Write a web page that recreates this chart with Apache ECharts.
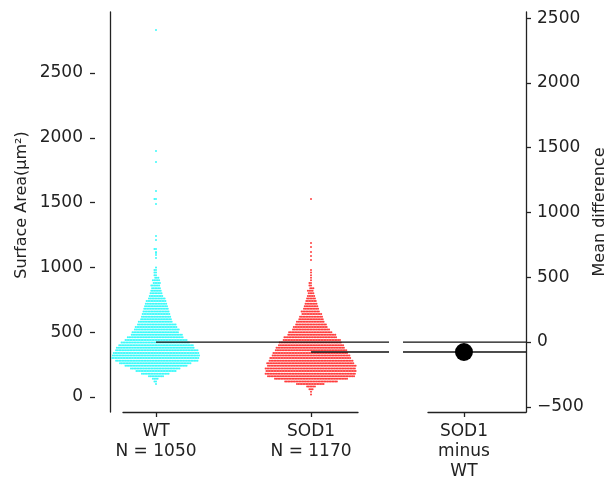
<!DOCTYPE html>
<html><head><meta charset="utf-8">
<script src="https://cdn.jsdelivr.net/npm/echarts@6/dist/echarts.min.js"></script>
<style>html,body{margin:0;padding:0;background:#fff}#c{width:616px;height:477px}</style>
</head><body><div id="c"></div>
<script>
// ---- data ----
const groups = ['WT', 'SOD1'];
const groupN = [1050, 1170];
const diffLabel = 'SOD1\nminus\nWT';
const yTicks = [0, 500, 1000, 1500, 2000, 2500];
const diffTicks = [-500, 0, 500, 1000, 1500, 2000, 2500];

// swarm rows: surface-area level (µm²) and number of cells at that level
const wtLevels = [100,120,140,160,180,200,220,240,260,280,300,320,340,360,380,400,420,440,460,480,500,520,540,560,580,600,620,640,660,680,700,720,740,760,780,800,820,840,860,880,900,920,940,960,980,1000];
const wtCounts = [1,2,4,10,18,26,32,40,46,53,56,56,55,53,50,48,44,40,36,33,30,29,27,25,22,20,19,18,17,16,15,14,13,11,9,8,7,6,6,5,5,3,2,2,2,1];
const wtOutliers = [1073,1096,1111,1119,1142,1142,1211,1242,1489,1528,1528,1590,1813,1898,2832];

const sodLevels = [20,40,60,80,100,120,140,160,180,200,220,240,260,280,300,320,340,360,380,400,420,440,460,480,500,520,540,560,580,600,620,640,660,680,700,720,740,760,780,800,820,840,860,880,900,920,940,960];
const sodCounts = [1,1,3,6,18,34,47,56,58,58,58,57,56,54,52,50,48,46,44,42,40,37,34,31,28,24,22,20,18,16,15,13,12,10,9,8,7,6,5,4,4,3,2,2,1,1,1,1];
const sodOutliers = [980,1057,1088,1119,1157,1188,1528];

const meanWT = 424, meanSOD1 = 347;
const meanDiff = -77;

// ---- build swarm points (layout only) ----
function swarm(center, levels, counts, outliers, dx) {
  const rows = levels.map((v, i) => [v, counts[i]]);
  const m = {};
  outliers.forEach(v => { m[v] = (m[v] || 0) + 1; });
  Object.keys(m).forEach(k => rows.push([+k, m[k]]));
  const pts = [];
  rows.forEach(([v, n], i) => {
    const stag = (i % 2) ? 0.5 : 0;
    for (let k = 0; k < n; k++) {
      const s = k === 0 ? 0 : ((k % 2) ? -1 : 1) * Math.ceil(k / 2);
      pts.push([center + (s + (n > 2 ? stag : 0)) * dx, v]);
    }
  });
  return pts;
}
const dx = 0.0101;
const wtPts = swarm(0, wtLevels, wtCounts, wtOutliers, dx);
const sodPts = swarm(1, sodLevels, sodCounts, sodOutliers, dx);

const FONT = 'DejaVu Sans';
const TXT = '#222';
const AX = '#222';
const TICKFS = 17;
const lineStyle = { color: AX, width: 1.3 };

// horizontal segments: [xStart, xEnd, y]
function segRender(params, api) {
  const p1 = api.coord([api.value(0), api.value(2)]);
  const p2 = api.coord([api.value(1), api.value(2)]);
  return { type: 'line', shape: { x1: p1[0], y1: p1[1], x2: p2[0], y2: p2[1] },
           style: { stroke: '#111', lineWidth: 1.3 } };
}

const chart = echarts.init(document.getElementById('c'), null, { renderer: 'canvas' });
chart.setOption({
  animation: false,
  backgroundColor: '#fff',
  grid: [
    { left: 123, top: 12, width: 235, height: 400, containLabel: false, outerBoundsMode: 'none' },
    { left: 428, top: 12, width: 98, height: 400, containLabel: false, outerBoundsMode: 'none' }
  ],
  xAxis: [
    { type: 'value', gridIndex: 0, min: -0.213, max: 1.303,
      axisLine: { show: true, onZero: false, lineStyle },
      axisTick: { show: true, length: 5, lineStyle, customValues: [0, 1] },
      axisLabel: { customValues: [0, 1], margin: 10, fontFamily: FONT, fontSize: TICKFS, color: TXT, lineHeight: 20,
        formatter: v => groups[Math.round(v)] + '\nN = ' + groupN[Math.round(v)] },
      splitLine: { show: false } },
    { type: 'value', gridIndex: 1, min: -0.367, max: 0.633,
      axisLine: { show: true, onZero: false, lineStyle },
      axisTick: { show: true, length: 5, lineStyle, customValues: [0] },
      axisLabel: { customValues: [0], margin: 10, fontFamily: FONT, fontSize: TICKFS, color: TXT, lineHeight: 20,
        formatter: () => diffLabel },
      splitLine: { show: false } }
  ],
  yAxis: [
    { type: 'value', gridIndex: 0, position: 'left', min: -116, max: 2971, offset: 13,
      axisLine: { show: true, onZero: false, lineStyle },
      axisTick: { show: false }, axisLabel: { show: false }, splitLine: { show: false },
      name: 'Surface Area(μm²)', nameLocation: 'middle', nameGap: 80,
      nameTextStyle: { fontFamily: FONT, fontSize: 16, color: TXT, padding: [0, 0, 0, 14] } },
    { type: 'value', gridIndex: 0, position: 'left', min: -116, max: 2971, offset: 28,
      axisLine: { show: false, onZero: false },
      axisTick: { show: true, length: 5, lineStyle, customValues: yTicks },
      axisLabel: { customValues: yTicks, margin: 12, fontFamily: FONT, fontSize: TICKFS, color: TXT,
        formatter: v => String(v) },
      splitLine: { show: false } },
    { type: 'value', gridIndex: 1, position: 'right', min: -540, max: 2547,
      axisLine: { show: true, onZero: false, lineStyle },
      axisTick: { show: true, length: 5, lineStyle, customValues: diffTicks },
      axisLabel: { customValues: diffTicks, margin: 11, fontFamily: FONT, fontSize: TICKFS, color: TXT,
        formatter: v => String(v).replace('-', '\u2212') },
      splitLine: { show: false },
      name: 'Mean difference', nameLocation: 'middle', nameGap: 66,
      nameTextStyle: { fontFamily: FONT, fontSize: 16, color: TXT } }
  ],
  series: [
    { type: 'scatter', xAxisIndex: 0, yAxisIndex: 0, data: wtPts, symbolSize: 2, clip: false, silent: true,
      itemStyle: { color: 'rgb(40,250,250)', opacity: 0.9 } },
    { type: 'scatter', xAxisIndex: 0, yAxisIndex: 0, data: sodPts, symbolSize: 2, clip: false, silent: true,
      itemStyle: { color: 'rgb(255,30,30)', opacity: 0.85 } },
    { type: 'custom', xAxisIndex: 0, yAxisIndex: 0, renderItem: segRender, clip: false, silent: true, z: 4,
      data: [[0, 1.503, meanWT], [1, 1.503, meanSOD1]] },
    { type: 'custom', xAxisIndex: 1, yAxisIndex: 2, renderItem: segRender, clip: false, silent: true, z: 4,
      data: [[-0.622, 0.633, 0], [-0.622, 0.633, meanDiff]] },
    { type: 'scatter', xAxisIndex: 1, yAxisIndex: 2, data: [[0, meanDiff]], symbolSize: 18, clip: false, silent: true,
      itemStyle: { color: '#000', opacity: 1 }, z: 5 }
  ]
});
</script>
</body></html>
